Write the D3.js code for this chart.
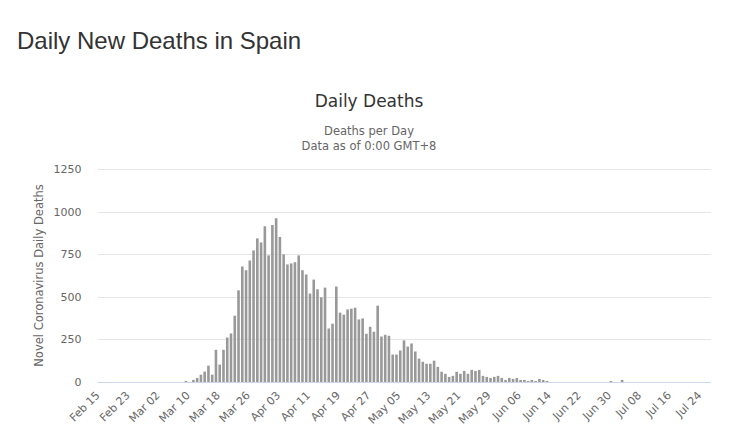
<!DOCTYPE html>
<html>
<head>
<meta charset="utf-8">
<script src="https://cdn.jsdelivr.net/npm/d3@7"></script>
<style>
  html, body { margin: 0; padding: 0; background: #fff; }
  svg { display: block; }
</style>
</head>
<body>
<svg id="chart" width="729" height="437"></svg>
<script>
// ---- Data ----
const startDate = "2020-02-15";
const dayCount = 163; // Feb 15 .. Jul 26
// Daily deaths, one value per day from Feb 15
const febDeaths = [0,0,0,0,0,0,0,0,0,0,0,0,0,0,0]; // Feb 15-29
const marDeaths = [0,0,0,0,0,0,0,0,6,0,12,24,43,61,96,43,189,102,189,261,285,389,538,678,656,713,772,843,819,914,743];
const aprDeaths = [921,961,851,749,690,696,703,743,656,631,519,601,544,497,554,314,342,560,407,395,426,430,436,367,373,283,324,295,448,267];
const mayDeaths = [277,271,161,161,185,244,208,226,179,137,119,107,107,125,89,60,48,30,36,60,48,65,48,71,65,71,36,30,24,30,36];
const junDeaths = [24,12,24,18,23,12,12,6,12,6,18,12,6,0,0,0,0,0,0,0,0,0,0,0,0,0,0,0,0,6];
const julDeaths = [0,0,12,0,0,0,0,0,0,0,0,0,0,0,0,0,0,0,0,0,0,0,0,0,0,0];
const deaths = [].concat(febDeaths, marDeaths, aprDeaths, mayDeaths, junDeaths, julDeaths);
const yTicks = [0, 250, 500, 750, 1000, 1250];
const xTickLabels = ["Feb 15","Feb 23","Mar 02","Mar 10","Mar 18","Mar 26","Apr 03","Apr 11","Apr 19","Apr 27","May 05","May 13","May 21","May 29","Jun 06","Jun 14","Jun 22","Jun 30","Jul 08","Jul 16","Jul 24"];

const parse = d3.timeParse("%Y-%m-%d");
const fmt = d3.timeFormat("%b %d");
const days = d3.timeDay.range(parse(startDate), d3.timeDay.offset(parse(startDate), dayCount));
const categories = days.map(fmt);
const data = categories.map((c, i) => ({ cat: c, value: deaths[i] || 0 }));

// ---- Layout ----
const svg = d3.select("#chart");
const font = "'DejaVu Sans', sans-serif";
const plot = { left: 97.5, right: 710.5, top: 169, bottom: 382 };

const x = d3.scaleBand().domain(categories).range([plot.left, plot.right]).padding(0);
const y = d3.scaleLinear().domain([0, 1250]).range([plot.bottom, plot.top]);

// Page title
svg.append("text")
  .attr("x", 17).attr("y", 49)
  .attr("font-family", "'Liberation Sans', Arial, sans-serif")
  .attr("font-size", 24).attr("fill", "#333")
  .text("Daily New Deaths in Spain");

// Chart title + subtitle
svg.append("text")
  .attr("x", 369).attr("y", 107).attr("text-anchor", "middle")
  .attr("font-family", font).attr("font-size", 17).attr("fill", "#333")
  .text("Daily Deaths");
svg.append("text")
  .attr("x", 369).attr("y", 135).attr("text-anchor", "middle")
  .attr("font-family", font).attr("font-size", 11.5).attr("fill", "#666")
  .text("Deaths per Day");
svg.append("text")
  .attr("x", 369).attr("y", 150).attr("text-anchor", "middle")
  .attr("font-family", font).attr("font-size", 11.5).attr("fill", "#666")
  .text("Data as of 0:00 GMT+8");

// Grid + y axis
const yAxis = d3.axisLeft(y).tickValues(yTicks).tickFormat(d3.format("d"))
  .tickSize(-(plot.right - plot.left)).tickPadding(16);
const gy = svg.append("g").attr("transform", `translate(${plot.left},0)`).call(yAxis);
gy.select(".domain").remove();
gy.selectAll(".tick line").attr("stroke", "#e6e6e6").attr("shape-rendering", "crispEdges");
gy.selectAll(".tick text").attr("font-family", font).attr("font-size", 11).attr("fill", "#666");

// y axis title
svg.append("text")
  .attr("transform", `translate(43,${(plot.top + plot.bottom) / 2}) rotate(-90)`)
  .attr("text-anchor", "middle")
  .attr("font-family", font).attr("font-size", 11.5).attr("fill", "#666")
  .text("Novel Coronavirus Daily Deaths");

// Bars
const bw = 2.6;
svg.append("g").selectAll("rect").data(data).join("rect")
  .attr("x", d => x(d.cat) + x.bandwidth() / 2 - bw / 2)
  .attr("width", bw)
  .attr("y", d => y(d.value))
  .attr("height", d => y(0) - y(d.value))
  .attr("fill", "#999");

// x axis
const tickCats = xTickLabels.filter(l => categories.includes(l));
const xAxis = d3.axisBottom(x).tickValues(tickCats).tickSize(0).tickPadding(0);
const gx = svg.append("g").attr("transform", `translate(0,${plot.bottom})`).call(xAxis);
gx.select(".domain").attr("stroke", "#ccd6eb").attr("d", `M${plot.left},0.5H${plot.right}`);
gx.selectAll(".tick text")
  .attr("font-family", font).attr("font-size", 11).attr("fill", "#666")
  .attr("text-anchor", "end")
  .attr("dy", 0)
  .attr("transform", "translate(1,14) rotate(-45)");
</script>
</body>
</html>
